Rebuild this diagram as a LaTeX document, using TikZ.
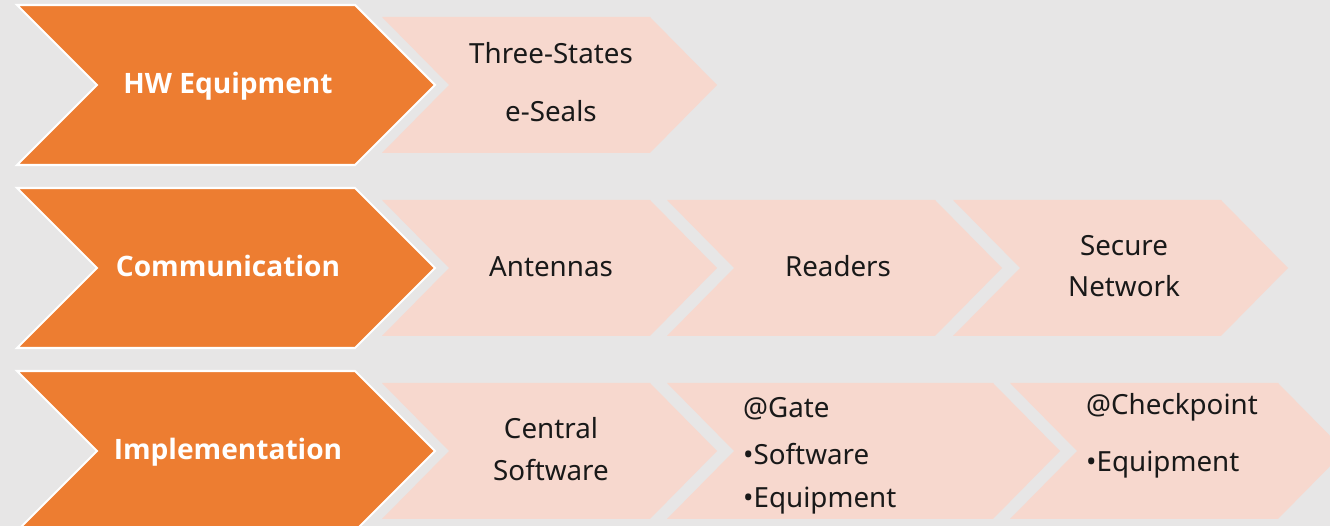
\documentclass[tikz,border=0pt]{standalone}
\usepackage{fontspec}
\setmainfont{Noto Sans}
\newfontfamily\stagefont{Open Sans}

\definecolor{bggray}{HTML}{E7E6E6}
\definecolor{stageorange}{HTML}{ED7D31}
\definecolor{taskpink}{HTML}{F7D8CE}

% chevron: style, left x, top y, width, height, tip depth
\newcommand{\chevron}[6]{%
  \path[#1] (#2,#3) -- ++(#4-#6,0) -- ++(#6,#5/2) -- ++(-#6,#5/2)
    -- ++(#6-#4,0) -- ++(#6,-#5/2) -- cycle;}

\begin{document}
\begin{tikzpicture}[
    x=0.02cm, y=-0.02cm,
    stage/.style={fill=stageorange, draw=white, line width=1.2pt},
    task/.style={fill=taskpink},
    stagetext/.style={text=white, font=\stagefont\fontsize{16}{19}\selectfont\bfseries, anchor=base},
    tasktext/.style={text=black!90, font=\fontsize{15.8}{19}\selectfont, anchor=base},
    itemtext/.style={tasktext, anchor=base west}
]
% Background
\useasboundingbox (0,0) rectangle (1330,526);
\clip (0,0) rectangle (1330,526);
\fill[bggray] (0,0) rectangle (1330,526);

% Orange stages
\foreach \y in {5,188,371} {
    \chevron{stage}{17}{\y}{418}{160}{80}
}

% Pink tasks
\foreach \y in {17,200,383} {
    \chevron{task}{382}{\y}{335}{136}{67}
}
\chevron{task}{667}{200}{335}{136}{67}
\chevron{task}{953}{200}{335}{136}{67}
\chevron{task}{667}{383}{393}{136}{67}
\chevron{task}{1010}{383}{335}{136}{67}

% Stage labels
\node[stagetext] (hw) at (228,94) {HW Equipment};
\node[stagetext] (comm) at (228,277) {Communication};
\node[stagetext] (impl) at (228,460) {Implementation};

% Row 1
\node[tasktext] (seals1) at (551,64) {Three-States};
\node[tasktext] (seals2) at (551,122) {e-Seals};

% Row 2
\node[tasktext] (antennas) at (551,277) {Antennas};
\node[tasktext] (readers) at (838,277) {Readers};
\node[tasktext] (net1) at (1124,256) {Secure};
\node[tasktext] (net2) at (1124,297) {Network};

% Row 3
\node[tasktext] (central1) at (551,439) {Central};
\node[tasktext] (central2) at (551,481) {Software};
\node[itemtext] (gate) at (737,418) {@Gate};
\node[itemtext] (gatesw) at (737,465) {•Software};
\node[itemtext] (gateeq) at (737,508) {•Equipment};
\node[itemtext] (check) at (1080,415) {@Checkpoint};
\node[itemtext] (checkeq) at (1080,472) {•Equipment};

\end{tikzpicture}
\end{document}
